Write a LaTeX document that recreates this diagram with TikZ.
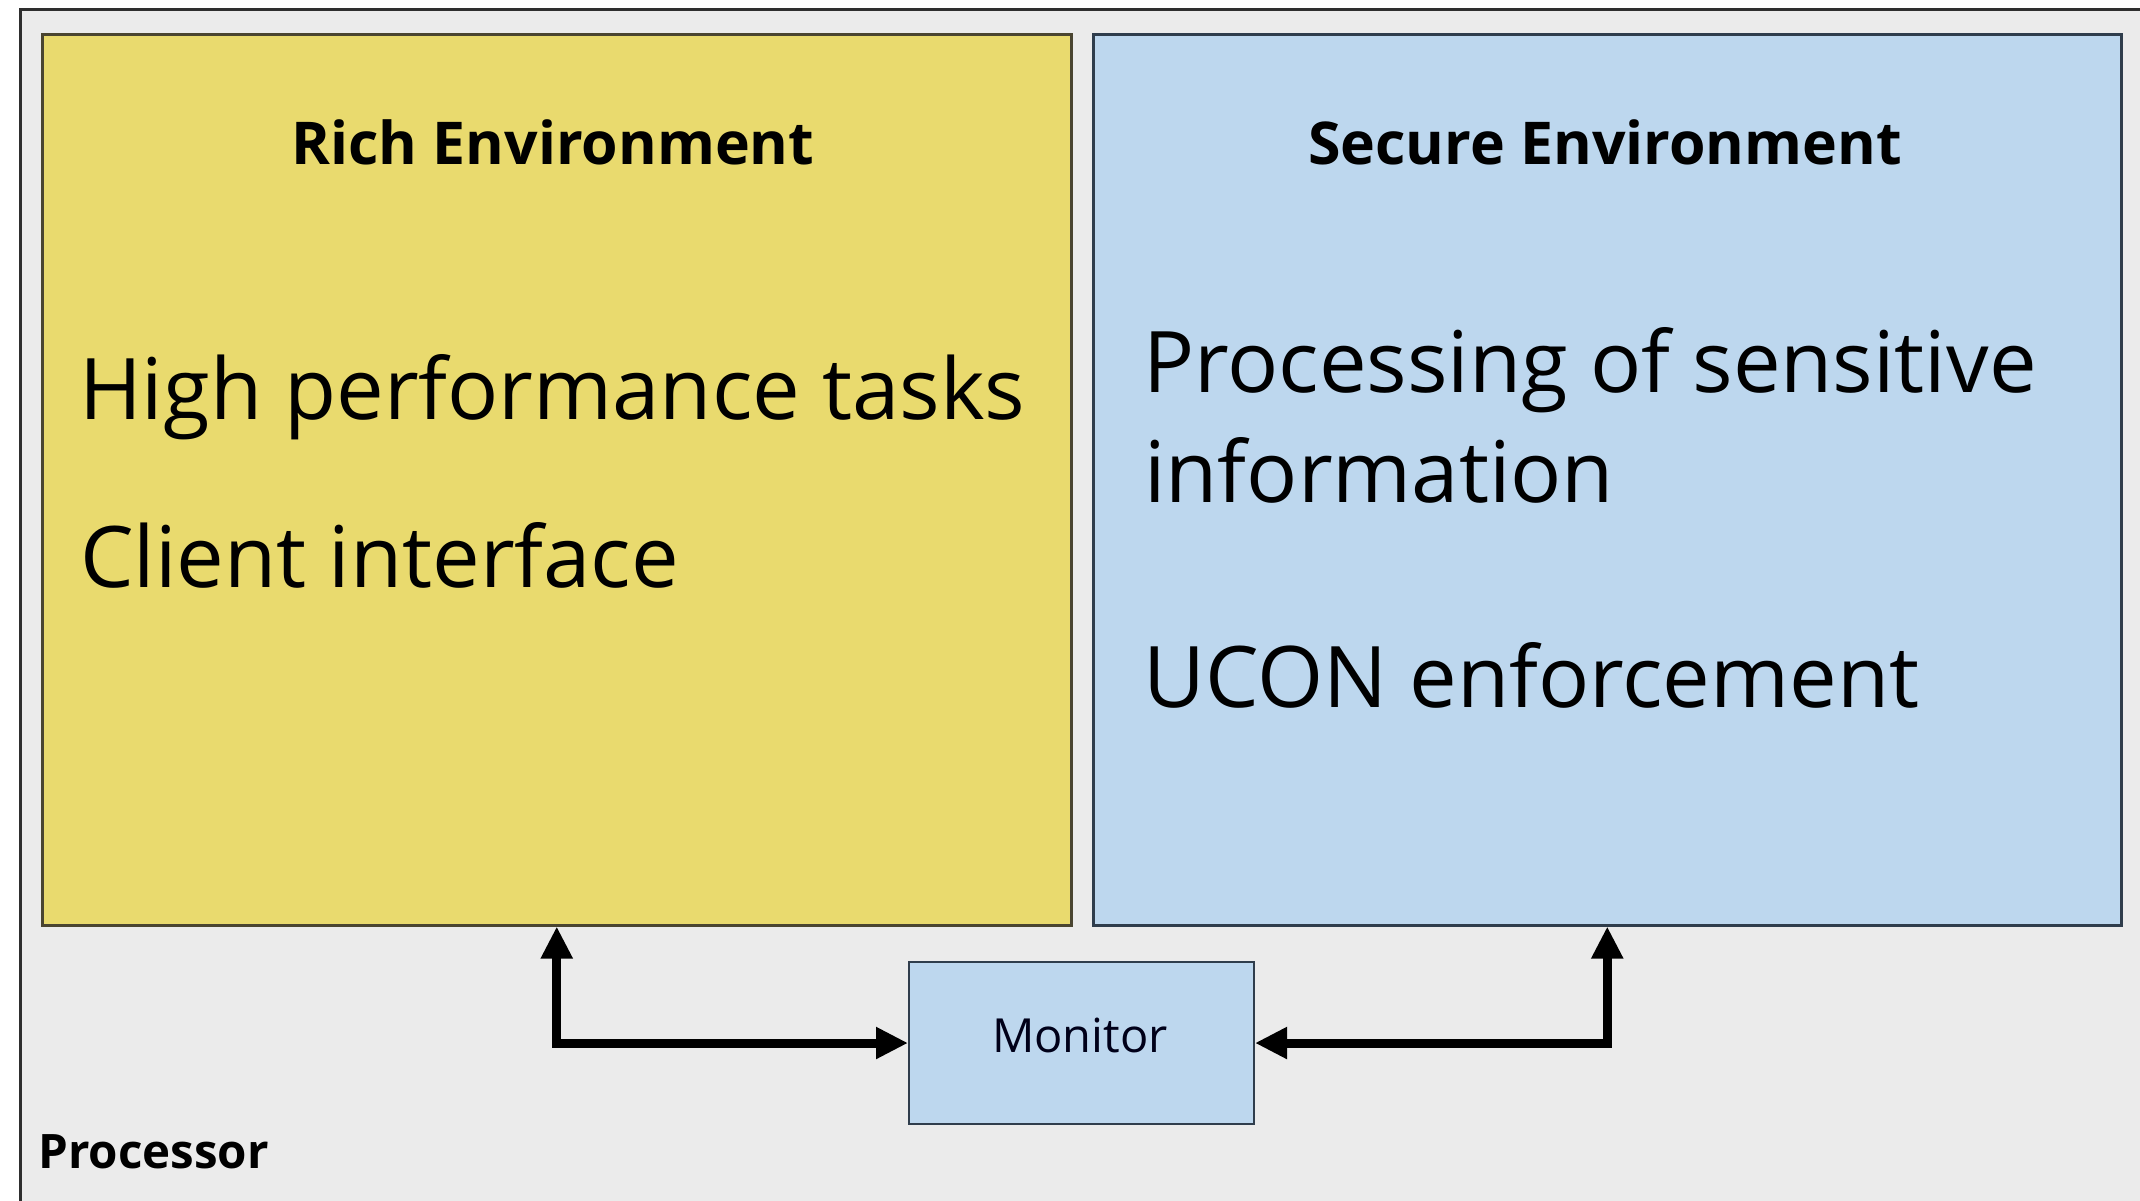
\documentclass[tikz,border=0pt]{standalone}
\usepackage{fontspec}
\setmainfont{Open Sans}
\usetikzlibrary{arrows.meta}
\definecolor{richfill}{HTML}{E9DA6E}
\definecolor{securefill}{HTML}{BDD7EE}
\definecolor{procgray}{HTML}{EBEBEB}
\definecolor{framecol}{HTML}{2E2E2E}
\definecolor{richline}{HTML}{4A4530}
\definecolor{secureline}{HTML}{2F3D4C}
\begin{document}
\begin{tikzpicture}[x=1pt,y=-1pt,
  box/.style={draw, line width=2.5pt, inner sep=0pt, anchor=north west},
  titletext/.style={font=\fontsize{59}{70}\selectfont\bfseries, anchor=base, inner sep=0pt},
  bodytext/.style={font=\fontsize{85}{100}\selectfont, anchor=base west, inner sep=0pt},
  smalltext/.style={font=\fontsize{47}{56}\selectfont, inner sep=0pt},
  link/.style={line width=9pt, line join=miter, {Triangle[length=32pt,width=30pt]}-{Triangle[length=32pt,width=30pt]}}
]
\useasboundingbox (0,0) rectangle (2140,1200);
\clip (0,0) rectangle (2140,1200);
\fill[white] (0,0) rectangle (2140,1200);
\node[box, fill=procgray, draw=framecol, line width=3pt, minimum width=2200pt, minimum height=1300pt] (processor) at (19,8) {};
\node[box, fill=richfill, draw=richline, minimum width=1029pt, minimum height=891pt] (rich) at (41,33) {};
\node[box, fill=securefill, draw=secureline, minimum width=1028pt, minimum height=891pt] (secure) at (1092,33) {};
\node[box, fill=securefill, draw=secureline, line width=2pt, minimum width=345pt, minimum height=162pt] (monitor) at (908,961) {};

\node[titletext] (richtitle) at (553,164) {Rich Environment};
\node[titletext] (securetitle) at (1605,164) {Secure Environment};
\node[bodytext] (hpt) at (79,419) {High performance tasks};
\node[bodytext] (ci) at (80,587) {Client interface};
\node[bodytext] (pos) at (1143,392) {Processing of sensitive};
\node[bodytext] (info) at (1144,502) {information};
\node[bodytext] (ucon) at (1143,707) {UCON enforcement};
\node[smalltext, anchor=base, text=black!90!blue] (montext) at (1080,1052) {Monitor};
\node[smalltext, font=\fontsize{47.5}{56}\selectfont\bfseries, anchor=base west] (proctext) at (38,1168) {Processor};

\draw[link] (rich.south) |- (monitor.west);
\draw[link] (secure.south) |- (monitor.east);
\end{tikzpicture}
\end{document}
